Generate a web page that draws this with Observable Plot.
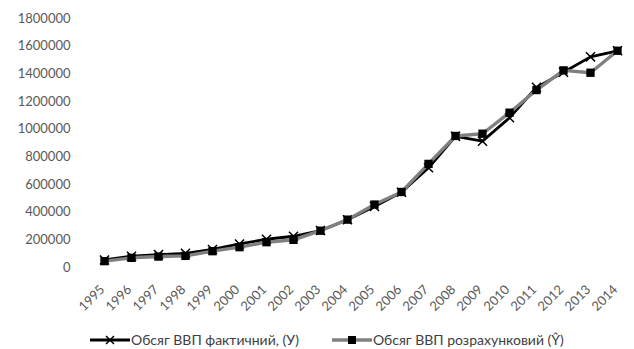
<!DOCTYPE html>
<html>
<head>
<meta charset="utf-8">
<script src="https://cdn.jsdelivr.net/npm/d3@7"></script>
<script src="https://cdn.jsdelivr.net/npm/@observablehq/plot@0.6"></script>
<style>
  body { margin: 0; background: #fff; font-family: Lato, "Open Sans", sans-serif; }
  #chart { width: 634px; height: 349px; position: relative; overflow: hidden; }
  .legend { position: absolute; left: 90px; top: 331px; display: flex; align-items: center; font-size: 14px; line-height: 17px; color: #404040; white-space: nowrap; }
  .item { display: flex; align-items: center; }
  .item svg { display: block; margin-right: 1px; }
</style>
</head>
<body>
<div id="chart"></div>
<script>
const years = ["1995","1996","1997","1998","1999","2000","2001","2002","2003","2004","2005","2006","2007","2008","2009","2010","2011","2012","2013","2014"];
const actual = [54516, 81519, 93365, 102593, 130442, 170070, 204190, 225810, 267344, 345113, 441452, 544153, 720731, 948056, 913345, 1082569, 1302079, 1411238, 1522657, 1566728];
const predicted = [46000, 70000, 79000, 84000, 118000, 147000, 183000, 200000, 266000, 346000, 455000, 546000, 749000, 951000, 967000, 1119000, 1283000, 1425000, 1408000, 1567000];
const yTicks = [0, 200000, 400000, 600000, 800000, 1000000, 1200000, 1400000, 1600000, 1800000];
const seriesNames = ["Обсяг ВВП фактичний, (У)", "Обсяг ВВП розрахунковий (Ŷ)"];

const dataA = years.map((y, i) => ({year: y, value: actual[i]}));
const dataP = years.map((y, i) => ({year: y, value: predicted[i]}));

const plot = Plot.plot({
  width: 634,
  height: 330,
  marginLeft: 86,
  marginRight: 0,
  marginTop: 18,
  marginBottom: 63,
  style: {fontFamily: "Lato, 'Open Sans', sans-serif", background: "#fff"},
  x: {type: "point", domain: years, padding: 0.5, label: null},
  y: {domain: [0, 1800000], label: null},
  marks: [
    Plot.gridY(yTicks, {stroke: "#d9d9d9", strokeOpacity: 1, strokeWidth: 1.2, x1: 86, x2: 634}),
    Plot.axisY(yTicks, {tickSize: 0, tickPadding: 16, tickFormat: d => String(d), fontSize: 13, fill: "#595959", label: null}),
    Plot.axisX({tickSize: 0, tickPadding: 4, tickRotate: -45, fontSize: 13, fill: "#595959", label: null, dx: -2, dy: 16}),
    Plot.line(dataA, {x: "year", y: "value", stroke: "#000", strokeWidth: 2.8}),
    Plot.dot(dataA, {x: "year", y: "value", symbol: "times", r: 4.2, stroke: "#000", strokeWidth: 1.5}),
    Plot.line(dataP, {x: "year", y: "value", stroke: "#808080", strokeWidth: 3.4}),
    Plot.dot(dataP, {x: "year", y: "value", symbol: "square", r: 4.7, fill: "#000", stroke: "none"})
  ]
});

const chart = document.getElementById("chart");
chart.appendChild(plot);

const legend = document.createElement("div");
legend.className = "legend";
legend.innerHTML = `
  <div class="item">
    <svg width="40" height="12"><line x1="0" y1="6" x2="40" y2="6" stroke="#000" stroke-width="3"/><path d="M16,2 L24,10 M24,2 L16,10" stroke="#000" stroke-width="1.5"/></svg>
    <span>${seriesNames[0]}</span>
  </div>
  <div class="item" style="margin-left:33px">
    <svg width="40" height="12"><line x1="0" y1="6" x2="40" y2="6" stroke="#808080" stroke-width="3.5"/><rect x="16" y="2" width="8" height="8" fill="#000"/></svg>
    <span>${seriesNames[1]}</span>
  </div>`;
chart.appendChild(legend);
</script>
</body>
</html>
